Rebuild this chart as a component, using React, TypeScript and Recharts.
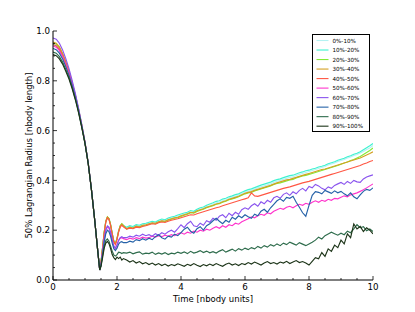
import React from 'react';
import { LineChart, Line, XAxis, YAxis, Legend } from 'recharts';

const FONT = 'DejaVu Sans';

const times = [
  0, 0.1, 0.2, 0.3, 0.4, 0.5, 0.6, 0.7, 0.8, 0.9, 1.0, 1.1, 1.2, 1.3, 1.4, 1.46,
  1.5, 1.55, 1.6, 1.65, 1.7, 1.75, 1.8, 1.85, 1.9, 1.95, 2.0, 2.05, 2.1, 2.15, 2.2,
  2.3, 2.4, 2.5, 2.6, 2.7, 2.8, 2.9,
  3.0, 3.1, 3.2, 3.3, 3.4, 3.5, 3.6, 3.7, 3.8, 3.9,
  4.0, 4.1, 4.2, 4.3, 4.4, 4.5, 4.6, 4.7, 4.8, 4.9,
  5.0, 5.1, 5.2, 5.3, 5.4, 5.5, 5.6, 5.7, 5.8, 5.9,
  6.0, 6.1, 6.2, 6.3, 6.4, 6.5, 6.6, 6.7, 6.8, 6.9,
  7.0, 7.1, 7.2, 7.3, 7.4, 7.5, 7.6, 7.7, 7.8, 7.9,
  8.0, 8.1, 8.2, 8.3, 8.4, 8.5, 8.6, 8.7, 8.8, 8.9,
  9.0, 9.1, 9.2, 9.3, 9.4, 9.5, 9.6, 9.7, 9.8, 9.9,
  10.0,
];

const s0 = [
  0.950, 0.945, 0.930, 0.905, 0.872, 0.835, 0.790, 0.740, 0.683, 0.620, 0.552, 0.470, 0.365, 0.245, 0.115, 0.042,
  0.070, 0.130, 0.190, 0.234, 0.250, 0.244, 0.220, 0.186, 0.156, 0.146, 0.166, 0.196, 0.216, 0.224, 0.218,
  0.208, 0.214, 0.212, 0.218, 0.217, 0.222, 0.225,
  0.228, 0.232, 0.230, 0.236, 0.240, 0.238, 0.245, 0.248, 0.252, 0.256,
  0.260, 0.264, 0.268, 0.272, 0.272, 0.280, 0.285, 0.288, 0.295, 0.298,
  0.304, 0.310, 0.312, 0.318, 0.322, 0.328, 0.332, 0.336, 0.340, 0.346,
  0.352, 0.356, 0.360, 0.364, 0.370, 0.374, 0.378, 0.382, 0.386, 0.392,
  0.396, 0.400, 0.404, 0.408, 0.412, 0.414, 0.420, 0.424, 0.428, 0.432,
  0.436, 0.440, 0.444, 0.448, 0.452, 0.456, 0.462, 0.466, 0.470, 0.476,
  0.480, 0.484, 0.490, 0.494, 0.500, 0.504, 0.510, 0.516, 0.524, 0.530,
  0.540,
];

const s1 = [
  0.945, 0.940, 0.925, 0.901, 0.868, 0.832, 0.788, 0.738, 0.682, 0.619, 0.552, 0.470, 0.365, 0.245, 0.115, 0.041,
  0.070, 0.130, 0.190, 0.235, 0.252, 0.246, 0.222, 0.187, 0.157, 0.147, 0.167, 0.197, 0.217, 0.225, 0.219,
  0.212, 0.218, 0.215, 0.222, 0.220, 0.226, 0.228,
  0.232, 0.236, 0.233, 0.240, 0.245, 0.242, 0.249, 0.253, 0.256, 0.261,
  0.265, 0.269, 0.272, 0.279, 0.276, 0.284, 0.290, 0.293, 0.300, 0.305,
  0.310, 0.316, 0.318, 0.325, 0.328, 0.334, 0.338, 0.343, 0.346, 0.352,
  0.358, 0.363, 0.366, 0.371, 0.376, 0.381, 0.385, 0.389, 0.393, 0.399,
  0.403, 0.406, 0.411, 0.415, 0.419, 0.421, 0.426, 0.431, 0.434, 0.439,
  0.441, 0.446, 0.449, 0.454, 0.457, 0.461, 0.467, 0.471, 0.475, 0.481,
  0.485, 0.489, 0.495, 0.499, 0.505, 0.509, 0.515, 0.523, 0.531, 0.539,
  0.548,
];

const s2 = [
  0.953, 0.948, 0.933, 0.908, 0.874, 0.837, 0.792, 0.741, 0.684, 0.621, 0.552, 0.470, 0.365, 0.245, 0.115, 0.042,
  0.071, 0.131, 0.191, 0.236, 0.254, 0.247, 0.222, 0.187, 0.156, 0.146, 0.166, 0.196, 0.218, 0.226, 0.219,
  0.205, 0.210, 0.208, 0.214, 0.212, 0.218, 0.220,
  0.224, 0.228, 0.226, 0.232, 0.236, 0.234, 0.240, 0.244, 0.248, 0.250,
  0.255, 0.260, 0.264, 0.270, 0.268, 0.275, 0.280, 0.284, 0.290, 0.294,
  0.298, 0.304, 0.306, 0.312, 0.316, 0.322, 0.326, 0.330, 0.334, 0.340,
  0.346, 0.350, 0.352, 0.358, 0.362, 0.366, 0.370, 0.374, 0.378, 0.384,
  0.388, 0.390, 0.394, 0.398, 0.402, 0.404, 0.410, 0.414, 0.418, 0.420,
  0.424, 0.428, 0.432, 0.436, 0.440, 0.444, 0.448, 0.452, 0.456, 0.460,
  0.465, 0.470, 0.474, 0.480, 0.484, 0.490, 0.496, 0.504, 0.512, 0.520,
  0.530,
];

const s3 = [
  0.956, 0.951, 0.936, 0.910, 0.877, 0.839, 0.793, 0.742, 0.685, 0.621, 0.553, 0.470, 0.365, 0.245, 0.115, 0.042,
  0.071, 0.131, 0.191, 0.235, 0.253, 0.246, 0.221, 0.186, 0.155, 0.145, 0.165, 0.195, 0.217, 0.224, 0.217,
  0.206, 0.212, 0.209, 0.216, 0.214, 0.220, 0.222,
  0.226, 0.230, 0.228, 0.234, 0.238, 0.236, 0.242, 0.246, 0.250, 0.252,
  0.258, 0.262, 0.266, 0.272, 0.270, 0.278, 0.282, 0.286, 0.292, 0.296,
  0.300, 0.305, 0.308, 0.314, 0.318, 0.324, 0.328, 0.332, 0.336, 0.342,
  0.348, 0.352, 0.355, 0.360, 0.364, 0.368, 0.372, 0.376, 0.380, 0.385,
  0.390, 0.394, 0.398, 0.402, 0.404, 0.408, 0.412, 0.416, 0.420, 0.424,
  0.428, 0.432, 0.436, 0.440, 0.444, 0.446, 0.450, 0.454, 0.458, 0.462,
  0.466, 0.470, 0.474, 0.478, 0.482, 0.486, 0.490, 0.496, 0.502, 0.508,
  0.515,
];

const s4 = [
  0.946, 0.941, 0.926, 0.902, 0.869, 0.832, 0.788, 0.738, 0.682, 0.619, 0.552, 0.470, 0.365, 0.245, 0.115, 0.041,
  0.070, 0.128, 0.188, 0.232, 0.250, 0.243, 0.218, 0.183, 0.152, 0.142, 0.162, 0.192, 0.212, 0.220, 0.214,
  0.204, 0.208, 0.206, 0.212, 0.210, 0.215, 0.218,
  0.222, 0.226, 0.224, 0.230, 0.233, 0.231, 0.236, 0.240, 0.243, 0.246,
  0.250, 0.254, 0.258, 0.262, 0.261, 0.266, 0.270, 0.274, 0.278, 0.282,
  0.286, 0.290, 0.293, 0.298, 0.302, 0.306, 0.310, 0.314, 0.318, 0.322,
  0.326, 0.330, 0.350, 0.338, 0.336, 0.340, 0.344, 0.348, 0.352, 0.356,
  0.360, 0.364, 0.368, 0.371, 0.374, 0.378, 0.382, 0.386, 0.390, 0.393,
  0.396, 0.400, 0.404, 0.408, 0.412, 0.416, 0.420, 0.424, 0.428, 0.432,
  0.436, 0.440, 0.444, 0.448, 0.452, 0.456, 0.460, 0.466, 0.470, 0.476,
  0.480,
];

const s5 = [
  0.940, 0.935, 0.921, 0.897, 0.865, 0.829, 0.785, 0.736, 0.680, 0.618, 0.551, 0.470, 0.365, 0.245, 0.115, 0.040,
  0.062, 0.112, 0.162, 0.200, 0.214, 0.208, 0.188, 0.158, 0.134, 0.126, 0.140, 0.158, 0.168, 0.170, 0.166,
  0.162, 0.168, 0.164, 0.170, 0.166, 0.172, 0.168,
  0.170, 0.176, 0.172, 0.178, 0.174, 0.180, 0.176, 0.182, 0.178, 0.186,
  0.190, 0.184, 0.192, 0.188, 0.196, 0.192, 0.200, 0.196, 0.204, 0.200,
  0.208, 0.214, 0.208, 0.218, 0.212, 0.222, 0.218, 0.228, 0.224, 0.234,
  0.240, 0.246, 0.254, 0.250, 0.258, 0.264, 0.260, 0.270, 0.266, 0.276,
  0.282, 0.288, 0.284, 0.292, 0.296, 0.290, 0.298, 0.304, 0.300, 0.308,
  0.304, 0.312, 0.318, 0.312, 0.320, 0.316, 0.324, 0.320, 0.328, 0.326,
  0.332, 0.338, 0.334, 0.342, 0.346, 0.350, 0.356, 0.362, 0.370, 0.378,
  0.386,
];

const s6 = [
  0.972, 0.967, 0.951, 0.924, 0.889, 0.849, 0.801, 0.748, 0.689, 0.624, 0.554, 0.471, 0.365, 0.245, 0.115, 0.041,
  0.062, 0.114, 0.164, 0.202, 0.217, 0.212, 0.192, 0.162, 0.137, 0.128, 0.142, 0.160, 0.170, 0.174, 0.170,
  0.170, 0.176, 0.172, 0.180, 0.176, 0.184, 0.178,
  0.182, 0.176, 0.186, 0.180, 0.190, 0.184, 0.194, 0.200, 0.192, 0.206,
  0.222, 0.210, 0.226, 0.236, 0.218, 0.214, 0.228, 0.220, 0.238, 0.232,
  0.248, 0.240, 0.256, 0.262, 0.250, 0.268, 0.258, 0.272, 0.264, 0.282,
  0.290, 0.284, 0.298, 0.306, 0.296, 0.314, 0.306, 0.320, 0.312, 0.330,
  0.336, 0.328, 0.344, 0.350, 0.340, 0.354, 0.346, 0.360, 0.368, 0.358,
  0.376, 0.370, 0.384, 0.378, 0.368, 0.362, 0.374, 0.368, 0.380, 0.386,
  0.392, 0.384, 0.396, 0.388, 0.400, 0.394, 0.392, 0.406, 0.414, 0.418,
  0.422,
];

const s7 = [
  0.930, 0.925, 0.911, 0.888, 0.857, 0.822, 0.780, 0.732, 0.678, 0.616, 0.550, 0.469, 0.365, 0.245, 0.115, 0.040,
  0.060, 0.106, 0.152, 0.186, 0.200, 0.194, 0.175, 0.148, 0.126, 0.118, 0.128, 0.144, 0.152, 0.154, 0.150,
  0.150, 0.156, 0.152, 0.162, 0.158, 0.166, 0.160,
  0.168, 0.162, 0.174, 0.182, 0.170, 0.164, 0.176, 0.172, 0.184, 0.178,
  0.190, 0.204, 0.212, 0.196, 0.188, 0.206, 0.214, 0.200, 0.218, 0.226,
  0.238, 0.248, 0.236, 0.226, 0.240, 0.232, 0.252, 0.244, 0.258, 0.250,
  0.262, 0.254, 0.248, 0.264, 0.258, 0.276, 0.284, 0.272, 0.290, 0.304,
  0.318, 0.326, 0.316, 0.332, 0.328, 0.336, 0.312, 0.292, 0.270, 0.256,
  0.300, 0.340, 0.355, 0.352, 0.346, 0.360, 0.354, 0.348, 0.358, 0.350,
  0.356, 0.346, 0.338, 0.350, 0.334, 0.326, 0.342, 0.356, 0.364, 0.360,
  0.370,
];

const s8 = [
  0.915, 0.911, 0.897, 0.875, 0.846, 0.813, 0.773, 0.727, 0.674, 0.614, 0.549, 0.468, 0.364, 0.245, 0.115, 0.040,
  0.058, 0.098, 0.136, 0.158, 0.165, 0.156, 0.136, 0.116, 0.101, 0.096, 0.102, 0.112, 0.110, 0.106, 0.110,
  0.108, 0.112, 0.105, 0.110, 0.113, 0.104, 0.108,
  0.106, 0.112, 0.103, 0.109, 0.104, 0.110, 0.102, 0.108, 0.105, 0.112,
  0.107, 0.113, 0.106, 0.115, 0.108, 0.112, 0.118, 0.110, 0.116, 0.109,
  0.114, 0.108, 0.116, 0.122, 0.112, 0.118, 0.124, 0.116, 0.126, 0.120,
  0.128, 0.122, 0.130, 0.125, 0.135, 0.128, 0.138, 0.132, 0.142, 0.136,
  0.145, 0.138, 0.148, 0.142, 0.152, 0.146, 0.140, 0.150, 0.144, 0.138,
  0.145, 0.152, 0.160, 0.172, 0.165, 0.178, 0.185, 0.192, 0.186, 0.180,
  0.188, 0.182, 0.196, 0.190, 0.205, 0.222, 0.210, 0.214, 0.198, 0.205,
  0.195,
];

const s9 = [
  0.905, 0.901, 0.888, 0.867, 0.838, 0.807, 0.768, 0.723, 0.671, 0.612, 0.548, 0.468, 0.364, 0.245, 0.115, 0.040,
  0.055, 0.090, 0.128, 0.148, 0.155, 0.146, 0.126, 0.102, 0.090, 0.082, 0.092, 0.086, 0.092, 0.080, 0.086,
  0.080, 0.072, 0.078, 0.068, 0.074, 0.065, 0.070,
  0.062, 0.068, 0.060, 0.066, 0.058, 0.064, 0.056, 0.062, 0.058, 0.065,
  0.060, 0.055, 0.063, 0.058, 0.066, 0.059, 0.054, 0.062, 0.057, 0.064,
  0.058, 0.066, 0.060, 0.055, 0.063, 0.068, 0.060, 0.065, 0.058, 0.066,
  0.062, 0.070, 0.064, 0.072, 0.066, 0.060, 0.068, 0.074, 0.066, 0.070,
  0.064, 0.072, 0.068, 0.075, 0.066, 0.072, 0.078, 0.070, 0.074, 0.068,
  0.060, 0.075, 0.090, 0.085, 0.110, 0.095, 0.125, 0.115, 0.140, 0.130,
  0.160, 0.145, 0.185, 0.170, 0.225, 0.205, 0.215, 0.195, 0.210, 0.200,
  0.185,
];

const seriesValues = [s0, s1, s2, s3, s4, s5, s6, s7, s8, s9];
const seriesNames = ['0%-10%', '10%-20%', '20%-30%', '30%-40%', '40%-50%', '50%-60%', '60%-70%', '70%-80%', '80%-90%', '90%-100%'];
const seriesColors = ['#b4f2f2', '#3ef2d0', '#84ea34', '#d4a022', '#ff5744', '#ff34cc', '#8a54ee', '#2562a8', '#2e6c4c', '#1c3418'];

const xTicks = [0, 0.5, 1, 1.5, 2, 2.5, 3, 3.5, 4, 4.5, 5, 5.5, 6, 6.5, 7, 7.5, 8, 8.5, 9, 9.5, 10];
const yTicks = [0, 0.05, 0.1, 0.15, 0.2, 0.25, 0.3, 0.35, 0.4, 0.45, 0.5, 0.55, 0.6, 0.65, 0.7, 0.75, 0.8, 0.85, 0.9, 0.95, 1.0];

const data = times.map((t, i) => {
  const row: Record<string, number> = { t };
  seriesValues.forEach((s, k) => {
    row['s' + k] = s[i];
  });
  return row;
});

const isMajorX = (v: number) => Math.abs(v / 2 - Math.round(v / 2)) < 1e-6;
const isMajorY = (v: number) => Math.abs(v / 0.2 - Math.round(v / 0.2)) < 1e-6;

const BottomTick = (props: any) => {
  const { x, y, payload } = props;
  const v = payload.value;
  const major = isMajorX(v);
  return (
    <g>
      <line x1={x} y1={y} x2={x} y2={y - (major ? 4 : 2)} stroke="#000" strokeWidth={0.8} />
      {major && (
        <text x={x} y={y + 10} textAnchor="middle" fontSize={8.7} fontFamily={FONT} fill="#000">
          {String(Math.round(v))}
        </text>
      )}
    </g>
  );
};

const TopTick = (props: any) => {
  const { x, y, payload } = props;
  const major = isMajorX(payload.value);
  return <line x1={x} y1={y} x2={x} y2={y + (major ? 4 : 2)} stroke="#000" strokeWidth={0.8} />;
};

const LeftTick = (props: any) => {
  const { x, y, payload } = props;
  const v = payload.value;
  const major = isMajorY(v);
  return (
    <g>
      <line x1={x} y1={y} x2={x + (major ? 4 : 2)} y2={y} stroke="#000" strokeWidth={0.8} />
      {major && (
        <text x={x - 3} y={y + 3.2} textAnchor="end" fontSize={8.7} fontFamily={FONT} fill="#000">
          {v.toFixed(1)}
        </text>
      )}
    </g>
  );
};

const RightTick = (props: any) => {
  const { x, y, payload } = props;
  const major = isMajorY(payload.value);
  return <line x1={x} y1={y} x2={x - (major ? 4 : 2)} y2={y} stroke="#000" strokeWidth={0.8} />;
};

const XLabel = (props: any) => {
  const vb = props.viewBox || {};
  return (
    <text x={vb.x + vb.width / 2} y={vb.y + 22} textAnchor="middle" fontSize={8.5} fontFamily={FONT} fill="#000">
      Time [nbody units]
    </text>
  );
};

const YLabel = (props: any) => {
  const vb = props.viewBox || {};
  const cx = vb.x + 29;
  const cy = vb.y + vb.height / 2;
  return (
    <text
      x={cx}
      y={cy}
      transform={`rotate(-90 ${cx} ${cy})`}
      textAnchor="middle"
      dominantBaseline="central"
      fontSize={8.5}
      fontFamily={FONT}
      fill="#000"
    >
      50% Lagrangian Radius [nbody length]
    </text>
  );
};

const LegendBox = () => (
  <svg width={58} height={98} style={{ display: 'block' }}>
    <rect x={0.5} y={0.5} width={57} height={97} fill="#fff" stroke="#000" strokeWidth={1} />
    {seriesNames.map((n, i) => {
      const cy = 6.5 + i * 9.52;
      return (
        <g key={n}>
          <line x1={4.5} x2={16.5} y1={cy} y2={cy} stroke={seriesColors[i]} strokeWidth={1.1} />
          <text x={20.5} y={cy + 2} fontSize={5.6} fontFamily={FONT} fill="#000">
            {n}
          </text>
        </g>
      );
    })}
  </svg>
);

export default function App() {
  return (
    <div style={{ position: 'absolute', left: 0, top: 0, width: 415, height: 312, background: '#fff' }}>
      <LineChart width={415} height={312} data={data} margin={{ top: 31, right: 42, bottom: 2, left: 0 }} style={{ fontFamily: FONT }}>
        <XAxis
          dataKey="t"
          type="number"
          domain={[0, 10]}
          ticks={xTicks}
          interval={0}
          tickSize={0}
          tickMargin={0}
          tickLine={false}
          tick={<BottomTick />}
          axisLine={{ stroke: '#000', strokeWidth: 1 }}
          height={30}
          allowDataOverflow
          label={<XLabel />}
        />
        <XAxis
          xAxisId="top"
          orientation="top"
          dataKey="t"
          type="number"
          domain={[0, 10]}
          ticks={xTicks}
          interval={0}
          tickSize={0}
          tickMargin={0}
          tickLine={false}
          tick={<TopTick />}
          axisLine={{ stroke: '#000', strokeWidth: 1 }}
          height={0}
          allowDataOverflow
        />
        <YAxis
          type="number"
          domain={[0, 1]}
          ticks={yTicks}
          interval={0}
          tickSize={0}
          tickMargin={0}
          tickLine={false}
          tick={<LeftTick />}
          axisLine={{ stroke: '#000', strokeWidth: 1 }}
          width={53}
          allowDataOverflow
          label={<YLabel />}
        />
        <YAxis
          yAxisId="right"
          orientation="right"
          type="number"
          domain={[0, 1]}
          ticks={yTicks}
          interval={0}
          tickSize={0}
          tickMargin={0}
          tickLine={false}
          tick={<RightTick />}
          axisLine={{ stroke: '#000', strokeWidth: 1 }}
          width={0}
          allowDataOverflow
        />
        {seriesNames.map((n, k) => (
          <Line
            key={n}
            type="linear"
            dataKey={'s' + k}
            name={n}
            stroke={seriesColors[k]}
            strokeWidth={1.15}
            dot={false}
            activeDot={false}
            isAnimationActive={false}
          />
        ))}
        <Legend
          layout="vertical"
          align="center"
          verticalAlign="middle"
          content={() => <LegendBox />}
          wrapperStyle={{ left: 312, top: 34, width: 58, height: 98 }}
        />
      </LineChart>
    </div>
  );
}
